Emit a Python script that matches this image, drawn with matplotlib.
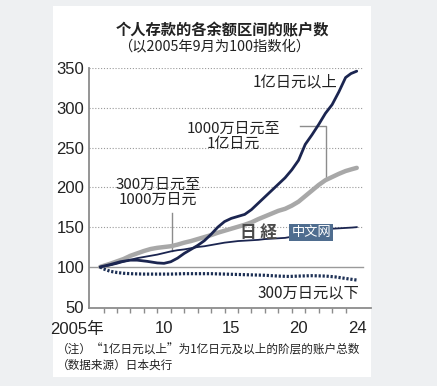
import numpy as np
import matplotlib
matplotlib.use("Agg")
import matplotlib.pyplot as plt
from matplotlib.patches import Rectangle

plt.rcParams['font.family'] = ['Noto Sans CJK SC', 'DejaVu Sans']

# --- data (index, Sept 2005 = 100) ---
years_a = [2005.75, 2006.5, 2007.25, 2008.0, 2008.5, 2009.25, 2010.0, 2010.5, 2011.0, 2011.5,
           2012.0, 2012.5, 2013.0, 2013.5, 2014.0, 2014.5, 2015.0, 2015.5, 2016.0, 2016.5,
           2017.0, 2017.5, 2018.0, 2018.5, 2019.0, 2019.5, 2020.0, 2020.5, 2021.0, 2021.5,
           2022.0, 2022.5, 2023.0, 2023.5, 2024.0, 2024.4, 2024.83]
over_100m = [100, 103, 106.5, 108.5, 108.5, 107, 105, 104.5, 106.5, 111,
             117, 122, 127, 133, 141, 150, 157, 161, 163.5, 166,
             172, 180, 188, 196, 204, 212, 222, 234, 254, 266,
             279, 293, 304, 320, 338, 343, 346]

years_b = [2005.75, 2006.5, 2007.0, 2007.5, 2008.0, 2008.5, 2009.0, 2009.5, 2010.0, 2010.5,
           2011.0, 2011.5, 2012.0, 2012.5, 2013.0, 2013.5, 2014.0, 2014.5, 2015.0, 2015.5,
           2016.0, 2016.5, 2017.0, 2017.5, 2018.0, 2018.5, 2019.0, 2019.5, 2020.0, 2020.5,
           2021.0, 2021.5, 2022.0, 2022.5, 2023.0, 2023.5, 2024.0, 2024.5, 2024.83]
m10_to_100m = [100, 104, 107, 110, 114, 117, 120, 122.5, 124, 125,
               126, 128, 130.5, 132.5, 135, 137.5, 140, 143, 145.5, 148,
               150.5, 153, 156, 160, 163.5, 167, 170.5, 173, 177, 182,
               189, 196, 203, 209, 213, 217, 220.5, 223, 224.5]
m3_to_10m = [100, 102, 104, 106.5, 109, 111, 112.5, 114, 115.5, 117.5,
             119.5, 121, 122, 123.5, 125, 126, 127.5, 129, 130.5, 131.5,
             132.5, 133, 133.5, 134, 135, 135.5, 136, 136.5, 138, 142,
             145, 146, 147, 147.5, 148, 148.5, 149, 149.5, 150]

years_d = [2005.75, 2006.0, 2006.5, 2007.0, 2007.5, 2008.0, 2009.0, 2010.0, 2011.0, 2012.0,
           2013.0, 2014.0, 2015.0, 2016.0, 2017.0, 2018.0, 2019.0, 2019.8, 2020.5, 2021.5,
           2022.5, 2023.2, 2024.0, 2024.83]
under_3m = [100, 97.5, 94.5, 93, 92, 91.5, 91, 91, 91, 91.5,
            91.5, 91.5, 91, 90.5, 90, 89.5, 88.5, 88, 88.5, 89,
            88.5, 87.5, 85.5, 83.5]

tick_years = list(range(2006, 2025))
label_pos = [2010.5, 2015.5, 2020.5, 2024.85]
label_txt = ['10', '15', '20', '24']
y_ticks = [50, 100, 150, 200, 250, 300, 350]

navy = '#1b2550'
light = '#a8a8a8'
axis_gray = '#8c8c8c'
txt = '#222222'
num_font = ['Liberation Sans', 'Noto Sans CJK SC']

fig = plt.figure(figsize=(4.37, 3.86), dpi=100, facecolor='#eef0f2')
fig.patches.append(Rectangle((53 / 437, 1 - 377 / 386), (371 - 53) / 437, (377 - 6) / 386,
                             transform=fig.transFigure, facecolor='white', edgecolor='none',
                             zorder=-5))

ax = fig.add_axes([89 / 437, 1 - 308.3 / 386, (371 - 89) / 437, (308.3 - 68) / 386])
ax.set_zorder(2)
ax.set_facecolor('none')
ax.set_xlim(2004.92, 2025.89)
ax.set_ylim(48, 350)

# grid lines
gx = (363 - 89) / (371 - 89)
for v in y_ticks[2:]:
    ax.axhline(v, xmax=gx, color='#9a9a9a', lw=0.8, ls=(0, (1, 1.6)), zorder=1)
ax.axhline(100, xmax=gx, color='#9a9a9a', lw=1.0, zorder=1)

# series
ax.plot(years_b, m10_to_100m, color=light, lw=3.2, solid_capstyle='round', zorder=3)
ax.plot(years_b, m3_to_10m, color=navy, lw=1.3, zorder=4)
ax.plot(years_a, over_100m, color=navy, lw=2.0, solid_capstyle='round', zorder=5)
ax.plot(years_d, under_3m, color='#1d3055', lw=2.3, ls=(0, (0.7, 0.55)), zorder=4)

# axes styling
for s in ['top', 'right']:
    ax.spines[s].set_visible(False)
for s in ['left', 'bottom']:
    ax.spines[s].set_color(axis_gray)
    ax.spines[s].set_linewidth(1.3)

ax.set_yticks(y_ticks)
ax.set_yticklabels([str(v) for v in y_ticks], family=num_font, fontsize=12, color=txt)
ax.tick_params(axis='y', length=0, pad=3.5)

ax.set_xticks(label_pos)
ax.set_xticklabels(label_txt, family=num_font, fontsize=12, color=txt)
ax.set_xticks(tick_years, minor=True)
ax.tick_params(axis='x', which='major', length=0, pad=9)
ax.tick_params(axis='x', which='minor', length=3.5, width=1.0, color=axis_gray, direction='out')
ax.text(2006.0, -0.09, '2005年', transform=ax.get_xaxis_transform(), ha='right', va='center',
        family=num_font, fontsize=12, color=txt)

# series labels
ax.text(2023.36, 333, '1亿日元以上', ha='right', va='center', fontsize=11, color=txt)
ax.text(2015.63, 264, '1000万日元至\n1亿日元', ha='center', va='center', fontsize=10.8,
        color=txt, linespacing=1.15)
ax.text(2010.05, 194, '300万日元至\n1000万日元', ha='center', va='center', fontsize=10.8,
        color=txt, linespacing=1.05)
ax.text(2024.99, 67, '300万日元以下', ha='right', va='center', fontsize=11, color=txt)

# leader lines
lx1 = 2022.54
ax.plot([2020.6, lx1, lx1], [277.6, 277.6, np.interp(lx1, years_b, m10_to_100m)],
        color=axis_gray, lw=1.0, zorder=2)
lx2 = 2011.09
ax.plot([lx2, lx2], [168, np.interp(lx2, years_b, m3_to_10m)], color=axis_gray, lw=1.0, zorder=2)

# watermark
ax.text(2017.5, 143, '日 経', ha='center', va='center', fontsize=12, zorder=7,
        fontweight='bold', family=['Noto Sans CJK JP'], color='#4a4a4a')
ax.text(2021.45, 143, '中文网', ha='center', va='center', fontsize=9.5, color='white', zorder=7,
        bbox=dict(boxstyle='square,pad=0.15', facecolor='#4f6d8f', edgecolor='none'))

# titles and notes
fig.text(222 / 437, 1 - 30 / 386, '个人存款的各余额区间的账户数', ha='center', va='center',
         fontsize=11, fontweight='bold', color=txt)
fig.text(214 / 437, 1 - 46.5 / 386, '（以2005年9月为100指数化）', ha='center', va='center',
         fontsize=10.3, color=txt)
fig.text(57 / 437, 1 - 350.5 / 386, '（注）“1亿日元以上”为1亿日元及以上的阶层的账户总数',
         ha='left', va='center', fontsize=8.4, color=txt)
fig.text(57 / 437, 1 - 365 / 386, '（数据来源）日本央行', ha='left', va='center',
         fontsize=8.4, color=txt)

fig.savefig('out.png', dpi=100, facecolor=fig.get_facecolor())
